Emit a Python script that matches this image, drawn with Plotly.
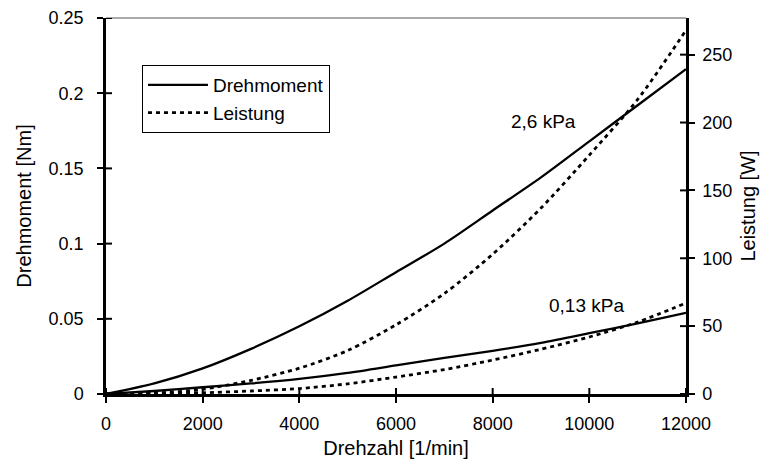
import plotly.graph_objects as go

rpm = [0, 1000, 2000, 3000, 4000, 5000, 6000, 7000, 8000, 9000, 10000, 11000, 12000]
torque_26 = [0, 0.007, 0.017, 0.030, 0.045, 0.062, 0.081, 0.100, 0.122, 0.144, 0.168, 0.192, 0.216]
power_26 = [0, 0.6, 3.5, 10, 19, 32, 51, 74, 103, 137, 176, 217, 268]
torque_013 = [0, 0.002, 0.0045, 0.007, 0.010, 0.014, 0.019, 0.024, 0.0287, 0.034, 0.0404, 0.047, 0.054]
power_013 = [0, 0.2, 0.9, 2.2, 4.0, 7.5, 12.5, 18, 25, 33, 42, 53, 67]

x_ticks = [0, 2000, 4000, 6000, 8000, 10000, 12000]
x_ticklabels = ["0", "2000", "4000", "6000", "8000", "10000", "12000"]
y_ticks = [0, 0.05, 0.1, 0.15, 0.2, 0.25]
y_ticklabels = ["0", "0.05", "0.1", "0.15", "0.2", "0.25"]
y2_ticks = [0, 50, 100, 150, 200, 250]

FONT = "Liberation Sans, Arial, sans-serif"
solid = dict(color="black", width=2.3, shape="spline", smoothing=0.8)
dotted = dict(color="black", width=2.8, dash="4px,4px", shape="spline", smoothing=0.8)

fig = go.Figure()
fig.add_trace(go.Scatter(x=rpm, y=torque_26, mode="lines", line=solid,
                         name="Drehmoment", legendgroup="t", showlegend=True))
fig.add_trace(go.Scatter(x=rpm, y=torque_013, mode="lines", line=solid,
                         name="Drehmoment", legendgroup="t", showlegend=False))
fig.add_trace(go.Scatter(x=rpm, y=power_26, mode="lines", line=dotted, yaxis="y2",
                         name="Leistung", legendgroup="p", showlegend=True))
fig.add_trace(go.Scatter(x=rpm, y=power_013, mode="lines", line=dotted, yaxis="y2",
                         name="Leistung", legendgroup="p", showlegend=False))

tickfont = dict(family=FONT, size=18, color="black")
titlefont = dict(family=FONT, size=20, color="black")

common = dict(ticks="outside", ticklen=6, tickwidth=2, tickcolor="black",
              showline=True, linecolor="black", linewidth=2.5, showgrid=False,
              zeroline=False, tickfont=tickfont, automargin=False)

fig.update_layout(
    width=768, height=467,
    margin=dict(l=106, r=82, t=18, b=73),
    paper_bgcolor="white", plot_bgcolor="white",
    font=dict(family=FONT, color="black"),
    xaxis=dict(range=[0, 12000], tickvals=x_ticks, ticktext=x_ticklabels,
               ticklabelstandoff=6,
               title=dict(text="Drehzahl [1/min]", font=titlefont, standoff=8), **common),
    yaxis=dict(range=[0, 0.25], tickvals=y_ticks, ticktext=y_ticklabels,
               ticklabelstandoff=10,
               title=dict(text="Drehmoment [Nm]", font=titlefont, standoff=12), **common),
    yaxis2=dict(range=[0, 277], tickvals=y2_ticks, overlaying="y", side="right",
                ticklabelstandoff=4,
                title=dict(text="Leistung [W]", font=titlefont, standoff=10), **common),
    legend=dict(x=0.062, y=0.875, xanchor="left", yanchor="top",
                bgcolor="white", bordercolor="black", borderwidth=1,
                font=dict(family=FONT, size=19, color="black"),
                itemwidth=60, tracegroupgap=0),
    showlegend=True,
)

# top frame line
fig.add_shape(type="line", xref="paper", yref="paper", x0=0, x1=1, y0=1, y1=1,
              line=dict(color="#555555", width=1))

# inner halves of the crossing tick marks
for xv in x_ticks:
    fig.add_shape(type="line", xref="x", yref="paper", ysizemode="pixel", yanchor=0,
                  x0=xv, x1=xv, y0=0, y1=6, line=dict(color="black", width=2))
for yv in y_ticks:
    fig.add_shape(type="line", xref="paper", yref="y", xsizemode="pixel", xanchor=0,
                  x0=0, x1=6, y0=yv, y1=yv, line=dict(color="black", width=2))
for yv in y2_ticks:
    fig.add_shape(type="line", xref="paper", yref="y2", xsizemode="pixel", xanchor=1,
                  x0=-6, x1=0, y0=yv, y1=yv, line=dict(color="black", width=2))

fig.add_annotation(x=9060, y=0.181, text="2,6 kPa", showarrow=False,
                   font=dict(family=FONT, size=19, color="black"))
fig.add_annotation(x=9950, y=0.0587, text="0,13 kPa", showarrow=False,
                   font=dict(family=FONT, size=19, color="black"))

fig.write_html("out.html", config={"displayModeBar": False},
               post_script="document.body.style.margin='0';document.body.style.overflow='hidden';")
